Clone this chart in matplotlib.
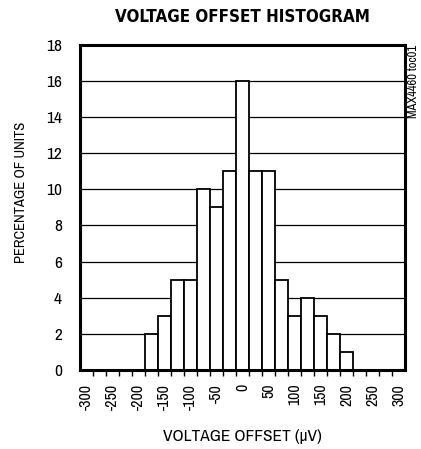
import numpy as np
import matplotlib
matplotlib.use('Agg')
import matplotlib.pyplot as plt
from matplotlib import font_manager

# histogram data: bin centres (uV) and percentage of units
BIN_CENTERS = [-175, -150, -125, -100, -75, -50, -25, 0,
               25, 50, 75, 100, 125, 150, 175, 200]
PERCENT = [2, 3, 5, 5, 10, 9, 11, 16, 11, 11, 5, 3, 4, 3, 2, 1]
BIN_WIDTH = 25
X_TICKS = list(range(-300, 301, 50))
Y_TICKS = list(range(0, 19, 2))

names = {f.name for f in font_manager.fontManager.ttflist}
FONT = 'Archivo Narrow' if 'Archivo Narrow' in names else 'DejaVu Sans'
plt.rcParams['font.family'] = [FONT, 'DejaVu Sans']
plt.rcParams['font.stretch'] = 'condensed'

fig = plt.figure(figsize=(4.21, 4.49), dpi=100)
ax = fig.add_axes([0.190, 0.176, 0.772, 0.724])

for y in Y_TICKS[1:-1]:
    ax.axhline(y, color='black', lw=0.9, zorder=1)

ax.bar(BIN_CENTERS, PERCENT, width=BIN_WIDTH, color='white',
       edgecolor='black', lw=1.3, zorder=2)

ax.set_xlim(-312.5, 312.5)
ax.set_ylim(0, 18)
ax.set_xticks(X_TICKS)
ax.set_xticklabels([str(v) for v in X_TICKS], rotation=90, fontsize=11.5)
edges = np.arange(-287.5, 288, BIN_WIDTH)
ax.set_xticks(edges, minor=True)
ax.tick_params(axis='x', which='major', length=0, pad=10)
ax.tick_params(axis='x', which='minor', length=4, width=1, direction='out')
ax.set_yticks(Y_TICKS)
ax.tick_params(axis='y', length=0, labelsize=12.5, pad=13)

for s in ax.spines.values():
    s.set_linewidth(2.2)

fig.text(0.575, 0.027, 'VOLTAGE OFFSET (μV)', ha='center', va='center',
         fontsize=12.5)
fig.text(0.050, 0.572, 'PERCENTAGE OF UNITS', ha='center', va='center',
         rotation=90, fontsize=10.5)
fig.text(0.577, 0.962, 'VOLTAGE OFFSET HISTOGRAM', ha='center', va='center',
         fontsize=12.2, fontweight='bold', family='DejaVu Sans', stretch='condensed')
fig.text(0.982, 0.90, 'MAX4460 toc01', rotation=90, ha='center', va='top',
         fontsize=9)

fig.savefig('out.png', dpi=100)
